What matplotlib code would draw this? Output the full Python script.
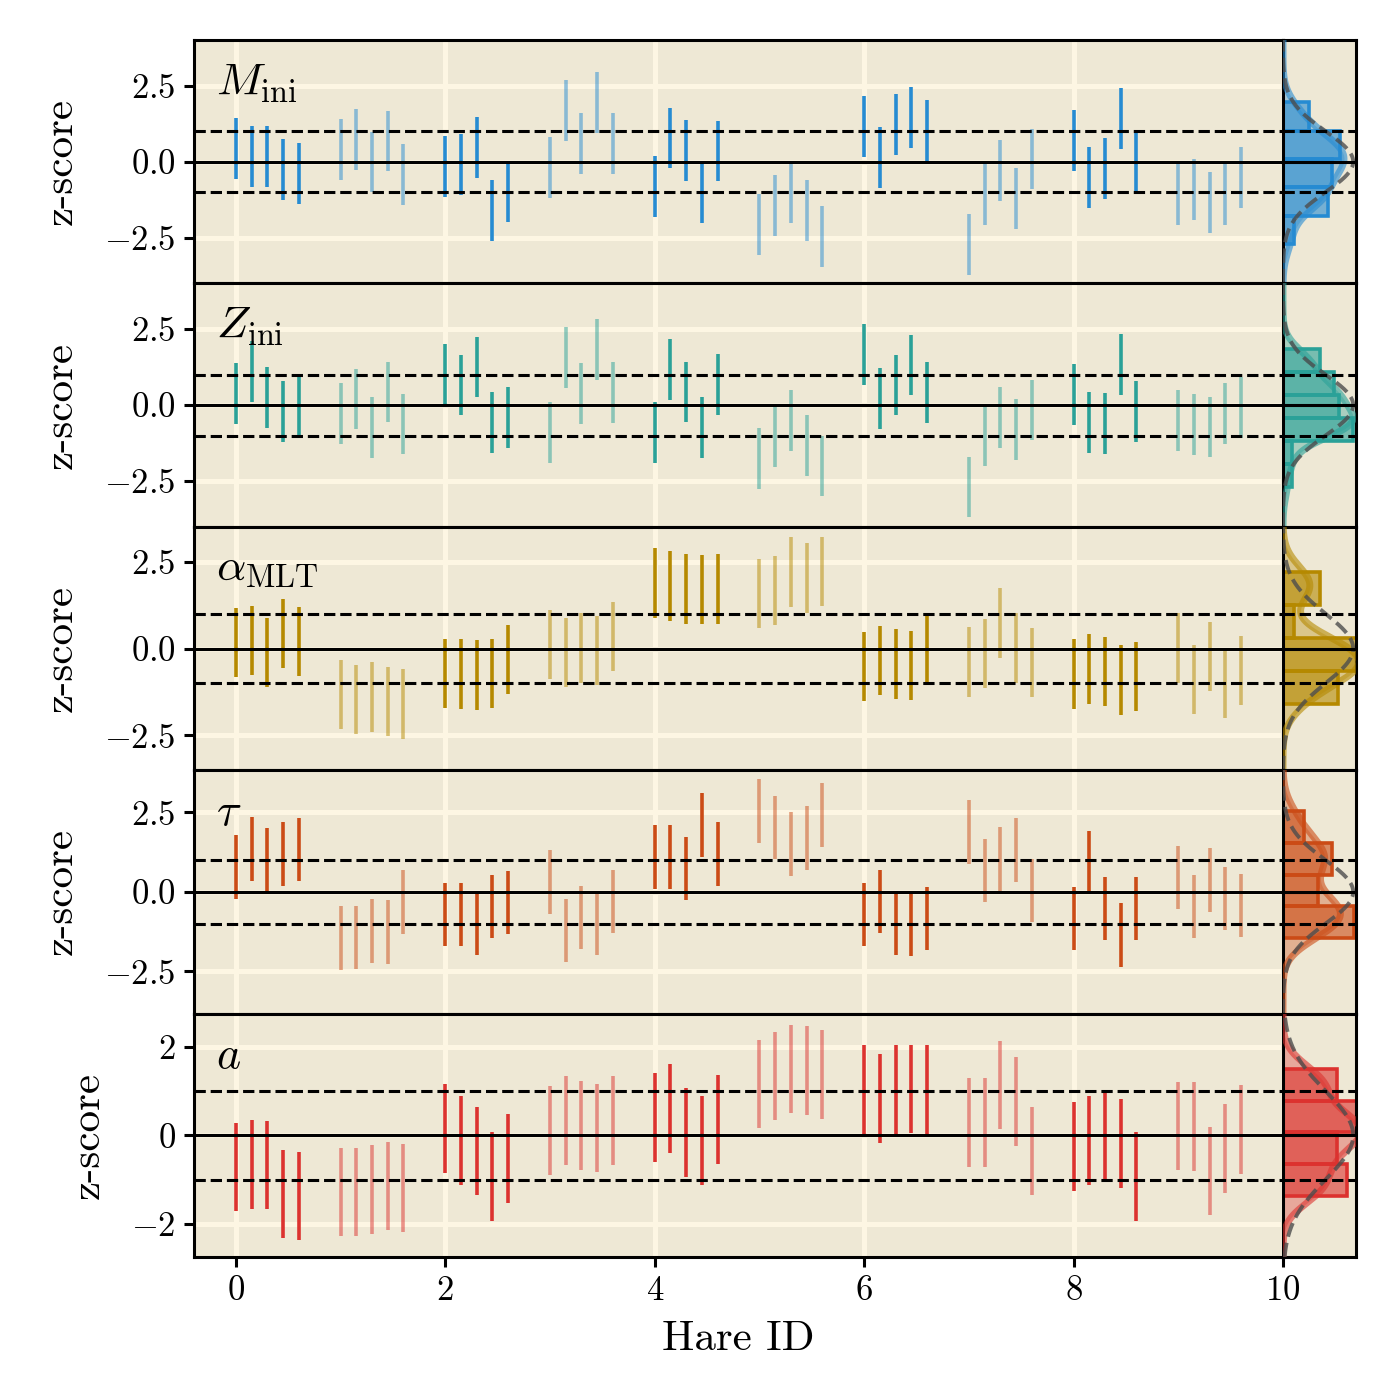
import numpy as np
import matplotlib
matplotlib.use('Agg')
import matplotlib.pyplot as plt
import matplotlib.ticker as mticker

plt.rcParams['font.family'] = 'serif'
plt.rcParams['font.serif'] = ['cmr10']
plt.rcParams['mathtext.fontset'] = 'cm'
plt.rcParams['axes.formatter.use_mathtext'] = True
plt.rcParams['axes.unicode_minus'] = True

# parameter labels and solarized accent colours
param_labels = [r'$M_{\rm ini}$', r'$Z_{\rm ini}$', r'$\alpha_{\rm MLT}$', r'$\tau$', r'$a$']
param_colors = ['#268bd2', '#2aa198', '#b58900', '#cb4b16', '#dc322f']

hare_ids = np.arange(10)
run_offsets = [0.0, 0.15, 0.3, 0.45, 0.6]

# z-score of the 5 runs per hare (rows = hare 0..9); error bars are +-1
z_mini = [
    [0.42, 0.18, 0.16, -0.26, -0.40],
    [0.40, 0.72, -0.01, 0.68, -0.42],
    [-0.15, -0.09, 0.48, -1.59, -0.98],
    [-0.19, 1.68, 0.59, 1.95, 0.61],
    [-0.82, 0.78, 0.37, -1.01, 0.35],
    [-2.07, -1.44, -1.02, -1.59, -2.47],
    [1.17, 0.15, 1.21, 1.44, 1.03],
    [-2.71, -1.08, -0.29, -1.22, 0.09],
    [0.69, -0.52, -0.21, 1.42, 0.03],
    [-1.07, -0.92, -1.35, -1.08, -0.53],
]
z_zini = [
    [0.38, 1.11, 0.26, -0.22, -0.05],
    [-0.28, 0.20, -0.74, 0.43, -0.62],
    [1.02, 0.66, 1.25, -0.57, -0.42],
    [-0.89, 1.57, 0.39, 1.83, 0.41],
    [-0.91, 1.18, 0.43, -0.75, 0.69],
    [-1.75, -1.04, -0.52, -1.33, -2.00],
    [1.66, 0.23, 0.66, 1.32, 0.42],
    [-2.69, -1.00, -0.40, -0.81, -0.16],
    [0.34, -0.57, -0.61, 1.34, -0.22],
    [-0.52, -0.65, -0.72, -0.28, -0.09],
]
z_alpha = [
    [0.17, 0.23, -0.12, 0.43, 0.20],
    [-1.32, -1.47, -1.40, -1.52, -1.60],
    [-0.72, -0.73, -0.76, -0.72, -0.32],
    [0.11, -0.12, 0.01, -0.06, 0.35],
    [1.88, 1.80, 1.71, 1.70, 1.71],
    [1.58, 1.67, 2.20, 2.02, 2.21],
    [-0.52, -0.35, -0.45, -0.49, -0.03],
    [-0.39, -0.15, 0.74, 0.01, -0.40],
    [-0.73, -0.59, -0.66, -0.91, -0.80],
    [0.01, -0.89, -0.23, -0.99, -0.63],
]
z_tau = [
    [0.79, 1.35, 1.02, 1.20, 1.33],
    [-1.45, -1.43, -1.23, -1.27, -0.32],
    [-0.71, -0.71, -1.00, -0.46, -0.33],
    [0.32, -1.22, -0.80, -0.99, -0.30],
    [1.10, 1.10, 0.73, 2.10, 1.19],
    [2.54, 2.03, 1.51, 1.70, 2.42],
    [-0.71, -0.30, -0.99, -1.01, -0.84],
    [1.88, 0.67, 1.04, 1.32, 0.04],
    [-0.84, 0.92, -0.52, -1.36, -0.52],
    [0.45, -0.46, 0.37, -0.21, -0.43],
]
z_a = [
    [-0.72, -0.66, -0.67, -1.33, -1.37],
    [-1.28, -1.28, -1.22, -1.15, -1.19],
    [0.15, -0.12, -0.36, -0.93, -0.52],
    [0.11, 0.33, 0.22, 0.16, 0.33],
    [0.40, 0.60, 0.06, -0.12, 0.36],
    [1.16, 1.34, 1.50, 1.46, 1.37],
    [1.03, 0.83, 1.03, 1.05, 1.03],
    [0.29, 0.29, 1.14, 0.76, -0.36],
    [-0.25, -0.12, -0.03, -0.18, -0.93],
    [0.21, 0.20, -0.81, -0.30, 0.13],
]
all_z = [z_mini, z_zini, z_alpha, z_tau, z_a]

y_lims = [4.0, 4.0, 3.5, 3.83, 2.75]
y_steps = [2.5, 2.5, 2.5, 2.5, 2.0]
n_bins = [5, 6, 4, 4, 4]

bg = '#eee8d5'
grid_c = '#fdf6e3'

fig = plt.figure(figsize=(6.98, 6.98), dpi=200)

W = 1396.0
left = 194 / W
main_w = (1283 - 194) / W
hist_w = (1356 - 1283) / W
top = 1 - 40 / W
row_h = (1257 - 40) / W / 5

for i in range(5):
    z = np.array(all_z[i])
    c = param_colors[i]
    bottom = top - (i + 1) * row_h

    ax = fig.add_axes([left, bottom, main_w, row_h])
    axh = fig.add_axes([left + main_w, bottom, hist_w, row_h], sharey=ax)

    for a in (ax, axh):
        a.set_facecolor(bg)
        for s in a.spines.values():
            s.set_linewidth(1.1)
            s.set_color('k')

    ax.set_axisbelow(True)
    ax.grid(True, color=grid_c, lw=1.8)

    for h in hare_ids:
        xs = h + np.array(run_offsets)
        alpha = 1.0 if h % 2 == 0 else 0.5
        ax.vlines(xs, z[h] - 1, z[h] + 1, color=c, alpha=alpha, lw=1.3, zorder=2)

    for a in (ax, axh):
        a.axhline(0, color='k', lw=1.1, zorder=4)
        a.axhline(1, color='k', lw=1.1, ls='--', zorder=4)
        a.axhline(-1, color='k', lw=1.1, ls='--', zorder=4)

    ax.set_xlim(-0.4, 10)
    ax.set_ylim(-y_lims[i], y_lims[i])
    ax.yaxis.set_major_locator(mticker.MultipleLocator(y_steps[i]))
    ax.xaxis.set_major_locator(mticker.MultipleLocator(2))
    ax.tick_params(axis='both', direction='out', length=3.5, width=1.1,
                   labelsize=12.5, pad=3)
    ax.set_ylabel('z-score', fontsize=15.5, labelpad=9)
    if i < 4:
        ax.tick_params(axis='x', bottom=False, labelbottom=False)
    else:
        ax.set_xlabel('Hare ID', fontsize=15.5, labelpad=5)

    ax.text(0.02, 0.91, param_labels[i], transform=ax.transAxes,
            ha='left', va='top', fontsize=16.5, zorder=5)

    # side histogram with kde and unit normal
    flat = z.ravel()
    face = matplotlib.colors.to_rgba(c, 0.6)
    axh.hist(flat, bins=n_bins[i], density=True, orientation='horizontal',
             histtype='bar', rwidth=1.0, facecolor=face, edgecolor=c, lw=1.3, zorder=2)

    yy = np.linspace(-y_lims[i], y_lims[i], 400)
    bw = flat.std(ddof=1) * len(flat) ** (-1 / 5)
    kde = np.exp(-0.5 * ((yy[:, None] - flat[None, :]) / bw) ** 2).sum(axis=1)
    kde /= len(flat) * bw * np.sqrt(2 * np.pi)
    axh.fill_betweenx(yy, 0, kde, color=c, alpha=0.35, lw=0, zorder=2)
    axh.plot(kde, yy, color=c, lw=2.5, alpha=0.6, zorder=3)

    pdf = np.exp(-0.5 * yy ** 2) / np.sqrt(2 * np.pi)
    axh.plot(pdf, yy, color='0.3', lw=1.4, ls='--', alpha=0.8, zorder=3)

    axh.set_xlim(0, 0.415)
    axh.tick_params(left=False, labelleft=False, bottom=False, labelbottom=False)

fig.savefig('out.png', dpi=200, facecolor='white')
